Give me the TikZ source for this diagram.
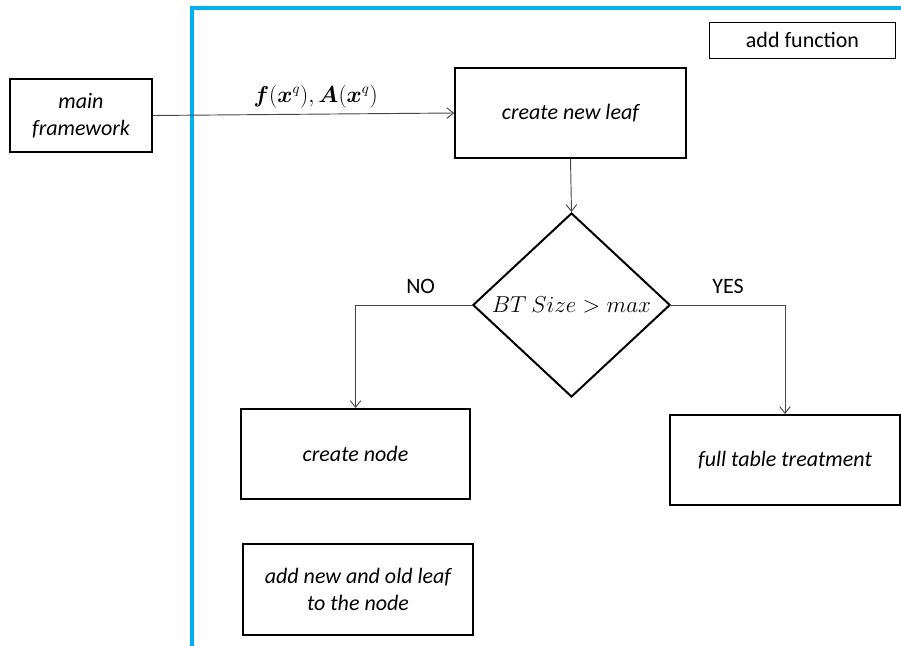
\documentclass[tikz,border=0pt]{standalone}
\usepackage{amsmath}
\usepackage{amssymb}
\usepackage{bm}
\usepackage{fontspec}
\usepackage{tikz}
\usepackage{xcolor}
\usetikzlibrary{shapes.geometric,arrows.meta}
\setmainfont{Carlito}
\definecolor{frameblue}{RGB}{0,176,240}
\definecolor{linegray}{RGB}{70,70,70}
\tikzset{
    process-box/.style = {draw=black, fill=white, line width=1.5pt, rectangle, align=center, font=\fontsize{16.5}{20}\selectfont\itshape, inner sep=2pt},
    decision-box/.style = {draw=black, fill=white, line width=1.5pt, diamond, inner sep=0pt, minimum width=148pt, minimum height=138pt, font=\fontsize{16}{19}\selectfont},
    note-box/.style = {draw=black, fill=white, line width=0.6pt, rectangle, minimum width=139pt, minimum height=27pt},
    flow-arrow/.style = {draw=linegray, line width=0.7pt, -{Straight Barb[length=5pt,width=8pt]}},
}

\begin{document}
\begin{tikzpicture}[x=0.75pt, y=-0.75pt, font=\fontsize{16.5}{20}\selectfont]
\useasboundingbox (0,0) rectangle (901,646);
% frame of the add function
\draw[frameblue, line width=2.3pt] (192,646) -- (192,8) -- (901,8);
\node[note-box] (addfn) at (802.5,40) {add function};

\node[process-box, minimum width=106.5pt, minimum height=55pt] (main) at (81,115.5) {main\\framework};
\node[process-box, minimum width=173pt, minimum height=67.5pt] (leaf) at (570.5,113) {create new leaf};
\node[decision-box] (size) at (571.5,305) {$BT\ Size > max$};
\node[process-box, minimum width=172pt, minimum height=67.5pt] (cnode) at (355.5,454) {create node};
\node[process-box, minimum width=172.5pt, minimum height=67.5pt] (table) at (785,460) {full table treatment};
\node[process-box, minimum width=172.5pt, minimum height=68pt] (addleaf) at (358,589.5) {add new and old leaf\\to the node};

% connectors
\draw[flow-arrow] (main.east) -- node[pos=0.54, above, yshift=1pt, black, font=\fontsize{16}{19}\selectfont] {$\bm{f}(\bm{x}^{q}),\bm{A}(\bm{x}^{q})$} (leaf.west);
\draw[flow-arrow] (leaf.south) -- (size.north);
\draw[flow-arrow] (size.west) -| node[pos=0.22, above, yshift=5pt, black] {NO} (cnode.north);
\draw[flow-arrow] (size.east) -| node[pos=0.25, above, yshift=5pt, black] {YES} (table.north);
\end{tikzpicture}
\end{document}
